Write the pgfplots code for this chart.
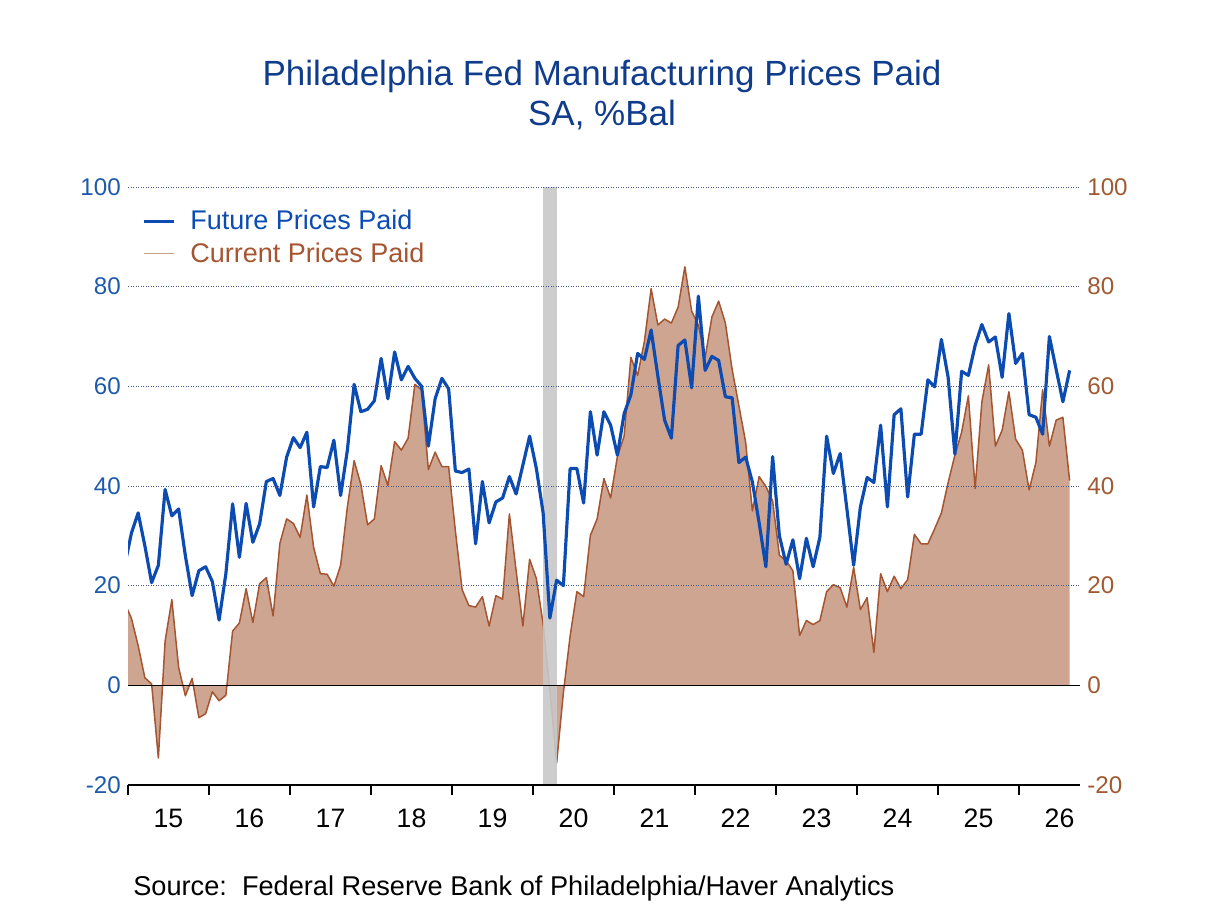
\documentclass[border=0pt]{standalone}
\usepackage{fontspec}
\setmainfont{Liberation Sans}
\usepackage{pgfplots}
\usepackage{pgfplotstable}
\pgfplotsset{compat=1.18}
\definecolor{futblue}{RGB}{12,76,178}
\definecolor{titleblue}{RGB}{16,60,140}
\definecolor{leftblue}{RGB}{30,90,170}
\definecolor{curline}{RGB}{165,85,50}
\definecolor{curfill}{RGB}{205,165,145}
\definecolor{curleg}{RGB}{200,160,140}
\definecolor{rightbrown}{RGB}{160,90,50}
\definecolor{bandgray}{RGB}{200,200,200}
\definecolor{gridcol}{RGB}{70,90,140}

\pgfplotstableread{
k fut cur
-1 24 16.5
0 30.5 13.5
1 34.6 8
2 28 1.5
3 20.6 0.3
4 24.1 -14.6
5 39.3 8.9
6 34.0 17.2
7 35.4 3.6
8 26 -2.1
9 18.0 1.4
10 23.0 -6.5
11 23.8 -5.7
12 20.8 -1.3
13 13.1 -3.1
14 22.4 -2.0
15 36.4 10.9
16 25.7 12.5
17 36.5 19.4
18 28.7 12.6
19 32.4 20.4
20 40.9 21.6
21 41.5 13.9
22 38.1 28.5
23 45.8 33.4
24 49.7 32.5
25 47.7 29.7
26 50.8 38.2
27 35.8 27.7
28 43.9 22.4
29 43.7 22.3
30 49.2 19.9
31 38.1 24.1
32 47.2 35.8
33 60.4 45.1
34 54.9 40.3
35 55.4 32.2
36 57.1 33.4
37 65.6 44.1
38 57.5 40.1
39 66.9 48.9
40 61.3 47.2
41 64.0 49.6
42 61.6 60.4
43 60.0 59.3
44 48.0 43.3
45 57.5 46.8
46 61.6 43.9
47 59.5 43.9
48 43.0 31
49 42.7 19.2
50 43.4 16.0
51 28.4 15.7
52 40.9 17.8
53 32.6 11.9
54 36.8 18.0
55 37.6 17.3
56 41.9 34.4
57 38.4 23
58 44.2 11.9
59 50.0 25.3
60 43.5 21.4
61 34.6 12.3
62 13.5 -1
63 21.1 -15.6
64 20.0 -1.5
65 43.5 9.9
66 43.5 18.8
67 36.6 17.8
68 54.9 30.1
69 46.2 33.4
70 54.9 41.5
71 52.2 37.6
72 46.2 45.9
73 54.5 50.0
74 58.3 65.8
75 66.6 62.2
76 65.4 69
77 71.3 79.6
78 62 72.3
79 53.2 73.5
80 49.6 72.7
81 68.2 75.9
82 69.3 84.0
83 59.7 75.1
84 78.1 72.3
85 63.2 65.8
86 66.0 73.9
87 65.2 77.1
88 57.9 72.7
89 57.7 63.4
90 44.7 56.1
91 45.8 48.8
92 40.8 35.0
93 32.6 41.9
94 23.8 39.9
95 45.9 37.0
96 30 26.1
97 24.3 25
98 29.2 23
99 21.4 10.0
100 29.5 13.0
101 23.8 12.2
102 29.7 13.0
103 50.0 18.8
104 42.5 20.2
105 46.5 19.6
106 35.4 15.7
107 24.1 23.7
108 35.8 15.2
109 41.7 17.6
110 40.7 6.6
111 52.2 22.4
112 35.8 18.8
113 54.3 21.9
114 55.5 19.4
115 37.8 21.2
116 50.4 30.3
117 50.4 28.4
118 61.3 28.4
119 59.9 31.4
120 69.4 34.6
121 61.8 40.7
122 46.4 46.2
123 63.0 50.8
124 62.2 58.1
125 68.2 39.5
126 72.4 56.9
127 68.9 64.3
128 69.9 48.0
129 61.8 51.2
130 74.6 58.9
131 64.6 49.4
132 66.6 47.2
133 54.3 39.2
134 53.8 44.7
135 50.4 59.3
136 70.0 48.0
137 63.4 53.2
138 56.9 53.8
139 63.2 41.1
}\data

\begin{document}
\begin{tikzpicture}[x=1pt,y=1pt]
\useasboundingbox (0,0) rectangle (724.8,543.6);
\node[anchor=base, font=\fontsize{21}{25}\selectfont, text=titleblue] at (361.2,492.3) {Philadelphia Fed Manufacturing Prices Paid};
\node[anchor=base, font=\fontsize{21}{25}\selectfont, text=titleblue] at (361.2,468.3) {SA, \%Bal};
\node[anchor=base west, inner sep=0pt, font=\fontsize{16.3}{19}\selectfont] at (79.8,6.2) {Source:\ \ Federal Reserve Bank of Philadelphia/Haver Analytics};

\begin{axis}[
  at={(76.8pt,72.6pt)}, anchor=south west, scale only axis,
  width=571.2pt, height=358.8pt,
  xmin=2015, xmax=2026.753, ymin=-20, ymax=100,
  axis on top,
  axis x line*=bottom, axis y line*=left,
  y axis line style={draw=none},
  x axis line style={black, line width=0.8pt, -},
  tick align=outside, major tick length=6pt,
  xtick={2015.5,2016.5,2017.5,2018.5,2019.5,2020.5,2021.5,2022.5,2023.5,2024.5,2025.5,2026.5},
  xticklabels={15,16,17,18,19,20,21,22,23,24,25,26},
  xtick style={draw=none},
  xticklabel style={font=\fontsize{16}{19}\selectfont, text=black, inner sep=0pt, anchor=north, yshift=-8pt},
  extra x ticks={2015,2016,2017,2018,2019,2020,2021,2022,2023,2024,2025,2026},
  extra x tick labels={},
  extra x tick style={xtick style={draw=black, line width=0.8pt}, tick style={draw=black, line width=0.8pt}},
  ytick={-20,0,20,40,60,80,100},
  yticklabels={-20,0,20,40,60,80,100},
  ytick style={draw=none},
  yticklabel style={font=\fontsize{14.5}{17}\selectfont, text=leftblue, inner sep=0pt, xshift=1.8pt},
  ymajorgrids,
  major grid style={gridcol, dash pattern=on 0.6pt off 0.9pt, line width=0.5pt},
  extra y ticks={0}, extra y tick labels={},
  extra y tick style={grid=major, major grid style={black, solid, line width=0.8pt}, tick style={draw=none}},
  legend style={at={(0.0145,0.967)}, anchor=north west, draw=none, fill=none,
     font=\fontsize{16.2}{19}\selectfont, row sep=2pt, column sep=7pt, inner sep=0pt,
     nodes={inner sep=2pt}},
  legend cell align=left,
  legend image code/.code={\draw[#1] (0pt,0pt) -- (18pt,0pt);},
]
\addplot[fill=curfill, draw=none, forget plot] table[x expr=2015+(\thisrow{k}+0.5)/12, y=cur]{\data} \closedcycle;
\addplot[curline, line width=0.9pt, line join=round, forget plot] table[x expr=2015+(\thisrow{k}+0.5)/12, y=cur]{\data};
\addplot[fill=bandgray, draw=none, fill opacity=0.9, forget plot] coordinates {(2020.123,-20) (2020.123,100) (2020.296,100) (2020.296,-20)};
\addplot[futblue, line width=1.9pt, line join=round] table[x expr=2015+(\thisrow{k}+0.5)/12, y=fut]{\data};
\addlegendentry{\textcolor{futblue}{Future Prices Paid}}
\addlegendimage{curleg, line width=1pt}
\addlegendentry{\textcolor{curline}{Current Prices Paid}}
\end{axis}

\begin{axis}[
  at={(76.8pt,72.6pt)}, anchor=south west, scale only axis,
  width=571.2pt, height=358.8pt,
  xmin=2015, xmax=2026.753, ymin=-20, ymax=100,
  axis x line=none, axis y line*=right,
  y axis line style={draw=none},
  tick align=outside, major tick length=6pt,
  ytick={-20,0,20,40,60,80,100},
  yticklabels={-20,0,20,40,60,80,100},
  ytick style={draw=none},
  yticklabel style={font=\fontsize{14.5}{17}\selectfont, text=rightbrown, inner sep=0pt, xshift=-1.8pt},
]
\addplot[draw=none] coordinates {(2016,0)};
\end{axis}
\end{tikzpicture}
\end{document}
